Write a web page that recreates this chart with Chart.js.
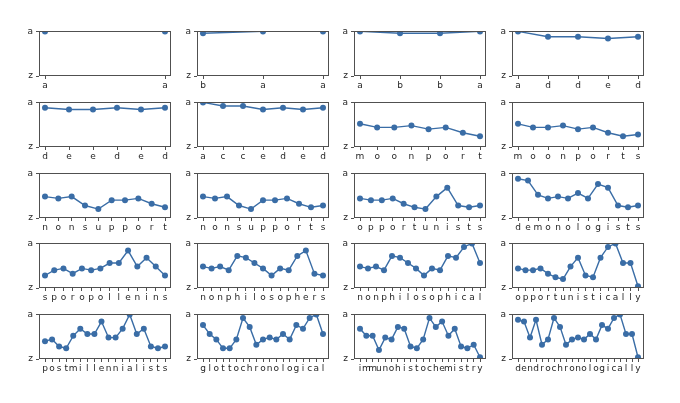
<!DOCTYPE html>
<html>
<head>
<meta charset="utf-8">
<script src="https://cdn.jsdelivr.net/npm/chart.js@4.4.1/dist/chart.umd.min.js"></script>
<style>
  html, body { margin: 0; padding: 0; background: #ffffff; }
  #wrap { position: relative; width: 680px; height: 403px; overflow: hidden; background: #fff; }
  .cell { position: absolute; }
</style>
</head>
<body>
<div id="wrap"></div>
<script>
// ---- DATA ----
const words = [
  'aa', 'baa', 'abba', 'added',
  'deeded', 'acceded', 'moonport', 'moonports',
  'nonsupport', 'nonsupports', 'opportunists', 'demonologists',
  'sporopollenins', 'nonphilosophers', 'nonphilosophical', 'opportunistically',
  'postmillennialists', 'glottochronological', 'immunohistochemistry', 'dendrochronologically'
];
const yTickLabels = ['a', 'z'];
const yTickValues = [0, 25];

// letter positions in the alphabet (a = 0 ... z = 25), read for each word
const v_aa = [0, 0];
const v_baa = [1, 0, 0];
const v_abba = [0, 1, 1, 0];
const v_added = [0, 3, 3, 4, 3];
const v_deeded = [3, 4, 4, 3, 4, 3];
const v_acceded = [0, 2, 2, 4, 3, 4, 3];
const v_moonport = [12, 14, 14, 13, 15, 14, 17, 19];
const v_moonports = [12, 14, 14, 13, 15, 14, 17, 19, 18];
const v_nonsupport = [13, 14, 13, 18, 20, 15, 15, 14, 17, 19];
const v_nonsupports = [13, 14, 13, 18, 20, 15, 15, 14, 17, 19, 18];
const v_opportunists = [14, 15, 15, 14, 17, 19, 20, 13, 8, 18, 19, 18];
const v_demonologists = [3, 4, 12, 14, 13, 14, 11, 14, 6, 8, 18, 19, 18];
const v_sporopollenins = [18, 15, 14, 17, 14, 15, 14, 11, 11, 4, 13, 8, 13, 18];
const v_nonphilosophers = [13, 14, 13, 15, 7, 8, 11, 14, 18, 14, 15, 7, 4, 17, 18];
const v_nonphilosophical = [13, 14, 13, 15, 7, 8, 11, 14, 18, 14, 15, 7, 8, 2, 0, 11];
const v_opportunistically = [14, 15, 15, 14, 17, 19, 20, 13, 8, 18, 19, 8, 2, 0, 11, 11, 24];
const v_postmillennialists = [15, 14, 18, 19, 12, 8, 11, 11, 4, 13, 13, 8, 0, 11, 8, 18, 19, 18];
const v_glottochronological = [6, 11, 14, 19, 19, 14, 2, 7, 17, 14, 13, 14, 11, 14, 6, 8, 2, 0, 11];
const v_immunohistochemistry = [8, 12, 12, 20, 13, 14, 7, 8, 18, 19, 14, 2, 7, 4, 12, 8, 18, 19, 17, 24];
const v_dendrochronologically = [3, 4, 13, 3, 17, 14, 2, 7, 17, 14, 13, 14, 11, 14, 6, 8, 2, 0, 11, 11, 24];

const seriesList = [
  v_aa, v_baa, v_abba, v_added,
  v_deeded, v_acceded, v_moonport, v_moonports,
  v_nonsupport, v_nonsupports, v_opportunists, v_demonologists,
  v_sporopollenins, v_nonphilosophers, v_nonphilosophical, v_opportunistically,
  v_postmillennialists, v_glottochronological, v_immunohistochemistry, v_dendrochronologically
];

// ---- LAYOUT / STYLE ----
const colLeft = [39, 197, 354, 512];
const rowTop = [29, 100, 171, 241, 312];
const plotW = 132, plotH = 47;
const PAD_L = 30, PAD_T = 6, PAD_R = 6, PAD_B = 20;
const lineColor = '#3a6da6';
const frameColor = '#505050';
const textColor = '#262626';

Chart.defaults.font.family = "'DejaVu Sans', sans-serif";
Chart.defaults.font.size = 9;
Chart.defaults.color = textColor;

const framePlugin = {
  id: 'frame',
  afterDraw(chart) {
    const a = chart.chartArea;
    const ctx = chart.ctx;
    ctx.save();
    ctx.strokeStyle = frameColor;
    ctx.lineWidth = 1;
    ctx.strokeRect(Math.round(a.left) + 0.5, Math.round(a.top) + 0.5,
                   Math.round(a.right - a.left) - 1, Math.round(a.bottom - a.top) - 1);
    ctx.restore();
  }
};

const wrap = document.getElementById('wrap');
words.forEach((word, k) => {
  const letters = word.split('');
  const vals = seriesList[k];
  const n = letters.length;
  const r = Math.floor(k / 4), c = k % 4;
  const div = document.createElement('div');
  div.className = 'cell';
  div.style.left = (colLeft[c] - PAD_L) + 'px';
  div.style.top = (rowTop[r] - PAD_T) + 'px';
  div.style.width = (plotW + PAD_L + PAD_R) + 'px';
  div.style.height = (plotH + PAD_T + PAD_B) + 'px';
  const canvas = document.createElement('canvas');
  div.appendChild(canvas);
  wrap.appendChild(div);

  const margin = 0.05 * (n - 1);
  new Chart(canvas, {
    type: 'line',
    data: {
      datasets: [{
        data: vals.map((v, i) => ({ x: i, y: v })),
        borderColor: lineColor,
        backgroundColor: lineColor,
        pointBackgroundColor: lineColor,
        pointBorderColor: lineColor,
        pointBorderWidth: 0,
        pointRadius: 3,
        borderWidth: 1.4,
        tension: 0,
        fill: false
      }]
    },
    options: {
      responsive: true,
      maintainAspectRatio: false,
      animation: false,
      events: [],
      layout: { autoPadding: false, padding: { left: 0, top: PAD_T, right: PAD_R, bottom: 0 } },
      plugins: { legend: { display: false }, tooltip: { enabled: false } },
      scales: {
        x: {
          type: 'linear',
          min: -margin,
          max: (n - 1) + margin,
          afterBuildTicks: (s) => { s.ticks = letters.map((_, i) => ({ value: i })); },
          afterFit: (s) => { s.height = PAD_B; },
          ticks: {
            autoSkip: false, maxRotation: 0, minRotation: 0, padding: 1,
            color: textColor,
            callback: (v) => letters[v]
          },
          grid: { drawOnChartArea: false, drawTicks: true, tickLength: 3, tickColor: frameColor, tickWidth: 1 },
          border: { display: false }
        },
        y: {
          type: 'linear',
          min: 0,
          max: 25,
          reverse: true,
          afterBuildTicks: (s) => { s.ticks = yTickValues.map(v => ({ value: v })); },
          afterFit: (s) => { s.width = PAD_L; },
          ticks: {
            autoSkip: false, padding: 3,
            color: textColor,
            callback: (v) => yTickLabels[yTickValues.indexOf(v)]
          },
          grid: { drawOnChartArea: false, drawTicks: true, tickLength: 3, tickColor: frameColor, tickWidth: 1 },
          border: { display: false }
        }
      }
    },
    plugins: [framePlugin]
  });
});
</script>
</body>
</html>
